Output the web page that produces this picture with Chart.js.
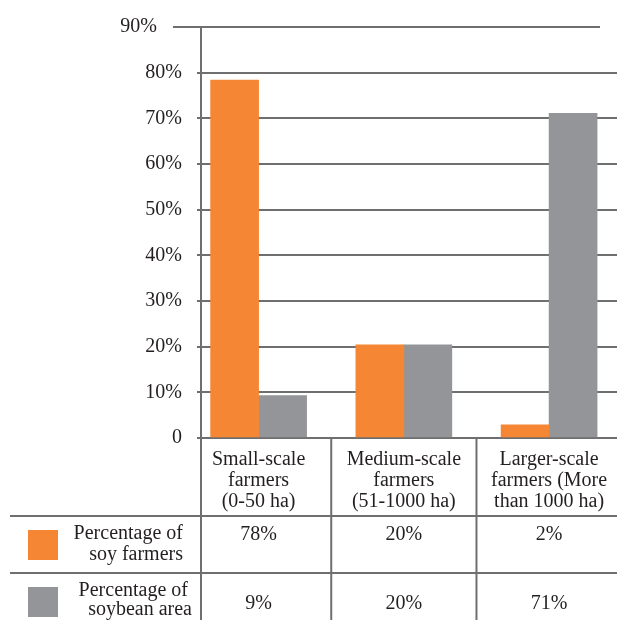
<!DOCTYPE html>
<html><head><meta charset="utf-8">
<script src="https://cdn.jsdelivr.net/npm/chart.js@4.4.1/dist/chart.umd.min.js"></script>
<style>html,body{margin:0;padding:0;background:#fff;}canvas{display:block;}</style>
</head><body>
<canvas id="c" width="617" height="620"></canvas>
<script>
const categories = [['Small-scale','farmers','(0-50 ha)'],['Medium-scale','farmers','(51-1000 ha)'],['Larger-scale','farmers (More','than 1000 ha)']];
const seriesNames = [['Percentage of','soy farmers'],['Percentage of','soybean area']];
const soyFarmers = [78.4, 20.4, 2.9];
const soybeanArea = [9.3, 20.4, 71.1];
const soyFarmersLabels = ['78%','20%','2%'];
const soybeanAreaLabels = ['9%','20%','71%'];
const yTicks = [0,10,20,30,40,50,60,70,80,90];

const ORANGE = '#f58634', GREY = '#939598', LINE = '#6f6f6f', TEXT = '#231f20';
const FONT = '"Liberation Serif", "DejaVu Serif", serif';
const fmt = v => v === 0 ? '0' : v + '%';

const tablePlugin = {
  id: 'table',
  afterDraw(chart) {
    const {ctx, chartArea, scales: {x, y}} = chart;
    const H = chart.height, W = chart.width;
    const line = (x1, y1, x2, y2) => { ctx.beginPath(); ctx.moveTo(x1, y1); ctx.lineTo(x2, y2); ctx.stroke(); };
    ctx.save();
    ctx.strokeStyle = LINE; ctx.lineWidth = 2;
    const yTop = y.getPixelForValue(90);
    line(173, yTop, 600, yTop);
    line(chartArea.left, chartArea.bottom, chartArea.left, H);
    [0.5, 1.5].forEach(v => { const px = x.getPixelForValue(v); line(px, chartArea.bottom, px, H); });
    line(10, 516, W, 516);
    line(10, 573, W, 573);

    ctx.fillStyle = TEXT;
    ctx.font = '20px ' + FONT;
    ctx.textAlign = 'center';
    ctx.textBaseline = 'alphabetic';
    categories.forEach((lines, i) => {
      const cx = x.getPixelForValue(i);
      lines.forEach((t, j) => ctx.fillText(t, cx, 465 + j * 21));
    });
    soyFarmersLabels.forEach((t, i) => ctx.fillText(t, x.getPixelForValue(i), 540));
    soybeanAreaLabels.forEach((t, i) => ctx.fillText(t, x.getPixelForValue(i), 609));

    ctx.fillStyle = ORANGE; ctx.fillRect(28, 530, 30, 30);
    ctx.fillStyle = GREY; ctx.fillRect(28, 587, 30, 30);
    ctx.fillStyle = TEXT; ctx.textAlign = 'right';
    ctx.fillText(seriesNames[0][0], 183, 539);
    ctx.fillText(seriesNames[0][1], 183, 560);
    ctx.fillText(seriesNames[1][0], 188, 596);
    ctx.fillText(seriesNames[1][1], 192, 615);

    ctx.textBaseline = 'middle';
    ctx.fillText(fmt(yTicks[yTicks.length - 1]), 157, yTop);
    ctx.restore();
  }
};

new Chart(document.getElementById('c'), {
  type: 'bar',
  data: {
    labels: categories,
    datasets: [
      { label: seriesNames[0].join(' '), data: soyFarmers.map((v, i) => ({x: i, y: v})), backgroundColor: ORANGE, borderWidth: 0, barThickness: 48 },
      { label: seriesNames[1].join(' '), data: soybeanArea.map((v, i) => ({x: i, y: v})), backgroundColor: GREY, borderWidth: 0, barThickness: 48 }
    ]
  },
  options: {
    responsive: false,
    animation: false,
    layout: { padding: { top: 23, bottom: 182, left: 0, right: 0 } },
    plugins: { legend: { display: false }, tooltip: { enabled: false } },
    scales: {
      x: { type: 'linear', min: -0.3966, max: 2.4675, offset: false, display: false },
      y: {
        min: 0, max: 90,
        afterBuildTicks: s => { s.ticks = yTicks.map(v => ({value: v})); },
        afterFit: s => { s.width = 201; },
        grid: {
          color: c => (c.tick && c.tick.value === 90) ? 'rgba(0,0,0,0)' : LINE,
          lineWidth: 2, tickLength: 4, drawTicks: true
        },
        border: { display: true, color: LINE, width: 2 },
        ticks: {
          color: c => (c.tick && c.tick.value === 90) ? 'rgba(0,0,0,0)' : TEXT,
          font: { family: FONT, size: 20 },
          padding: 15,
          callback: v => fmt(v)
        }
      }
    }
  },
  plugins: [tablePlugin]
});
</script>
</body></html>
